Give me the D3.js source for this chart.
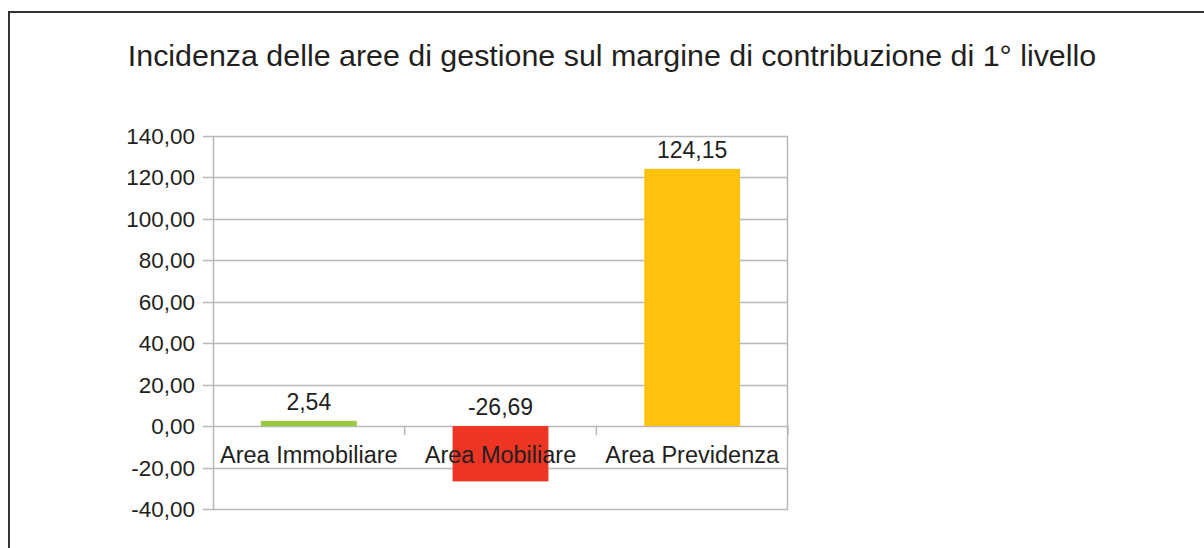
<!DOCTYPE html>
<html>
<head>
<meta charset="utf-8">
<script src="https://cdn.jsdelivr.net/npm/d3@7"></script>
<style>
    body { margin: 0; background: #fff; }
    text { font-family: 'Liberation Sans', Arial, sans-serif; fill: #231f20; }
</style>
</head>
<body>
<div id="myChart"></div>
<script>
let categories = ['Area Immobiliare', 'Area Mobiliare', 'Area Previdenza'];
let values = [2.54, -26.69, 124.15];
let barColors = ['#9bc83c', '#ee3524', '#fec20e'];
let yTicks = [-40, -20, 0, 20, 40, 60, 80, 100, 120, 140];
let title = 'Incidenza delle aree di gestione sul margine di contribuzione di 1° livello';

let W = 1204, H = 548;
let margin = { top: 136, left: 213, right: 416, bottom: 39 };
let width = W - margin.left - margin.right;
let height = H - margin.top - margin.bottom;

// italian style numbers, plain hyphen for negatives
let fmt = (v) => d3.format('.2f')(v).replace('.', ',').replace('\u2212', '-');

let svg = d3
    .select('#myChart')
    .append('svg')
    .attr('width', W)
    .attr('height', H);

// outer frame
svg.append('rect')
    .attr('x', 9)
    .attr('y', 12)
    .attr('width', W + 20)
    .attr('height', H + 20)
    .attr('fill', 'none')
    .attr('stroke', '#333')
    .attr('stroke-width', 2);

svg.append('text')
    .attr('x', 612)
    .attr('y', 66)
    .style('text-anchor', 'middle')
    .style('font-size', '30.4px')
    .text(title);

let g = svg.append('g')
    .attr('transform', 'translate(' + margin.left + ',' + margin.top + ')');

let x = d3.scaleBand().domain(categories).range([0, width]).paddingInner(0.5).paddingOuter(0.25);
let xb = d3.scaleBand().domain(categories).range([0, width]);
let y = d3.scaleLinear().domain([-40, 140]).range([height, 0]);

// grid lines + left ticks
g.selectAll('.grid')
    .data(yTicks)
    .enter()
    .append('line')
    .attr('x1', -10)
    .attr('x2', width)
    .attr('y1', (d) => Math.round(y(d)) + 0.5)
    .attr('y2', (d) => Math.round(y(d)) + 0.5)
    .attr('stroke', '#b8b8bc')
    .attr('stroke-width', 1.5);

g.selectAll('.ylab')
    .data(yTicks)
    .enter()
    .append('text')
    .attr('x', -18)
    .attr('y', (d) => y(d) + 8)
    .style('text-anchor', 'end')
    .style('font-size', '22.5px')
    .text((d) => fmt(d));

// plot frame sides
g.append('line')
    .attr('x1', 0.5).attr('x2', 0.5)
    .attr('y1', 0).attr('y2', height)
    .attr('stroke', '#b8b8bc').attr('stroke-width', 1.5);
g.append('line')
    .attr('x1', width - 0.5).attr('x2', width - 0.5)
    .attr('y1', 0).attr('y2', height)
    .attr('stroke', '#b8b8bc').attr('stroke-width', 1.5);

// bars
g.selectAll('.bar')
    .data(values)
    .enter()
    .append('rect')
    .attr('x', (d, i) => x(categories[i]))
    .attr('width', x.bandwidth())
    .attr('y', (d) => y(Math.max(0, d)))
    .attr('height', (d) => Math.abs(y(d) - y(0)))
    .attr('fill', (d, i) => barColors[i]);

// category ticks on zero line
g.selectAll('.ctick')
    .data(categories)
    .enter()
    .append('line')
    .attr('x1', (d) => xb(d) + xb.bandwidth())
    .attr('x2', (d) => xb(d) + xb.bandwidth())
    .attr('y1', y(0))
    .attr('y2', y(0) + 9)
    .attr('stroke', '#b8b8bc')
    .attr('stroke-width', 1.5);

// category labels
g.selectAll('.clab')
    .data(categories)
    .enter()
    .append('text')
    .attr('x', (d) => xb(d) + xb.bandwidth() / 2)
    .attr('y', y(0) + 37)
    .style('text-anchor', 'middle')
    .style('font-size', '23.5px')
    .text((d) => d);

// value labels
g.selectAll('.vlab')
    .data(values)
    .enter()
    .append('text')
    .attr('x', (d, i) => x(categories[i]) + x.bandwidth() / 2)
    .attr('y', (d) => y(Math.max(0, d)) - 11)
    .style('text-anchor', 'middle')
    .style('font-size', '23px')
    .text((d) => fmt(d));
</script>
</body>
</html>
